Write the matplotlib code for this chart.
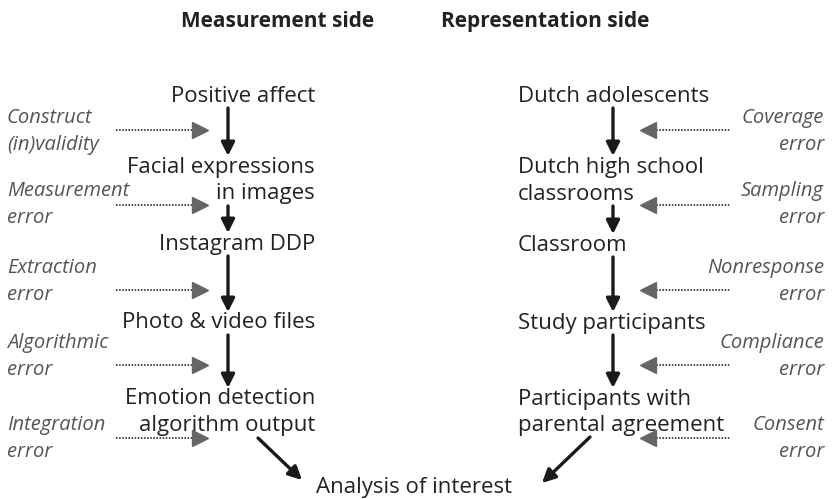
import matplotlib.pyplot as plt

# diagram content
headers = ["Measurement side", "Representation side"]
measure_nodes = ["Positive affect", "Facial expressions\nin images", "Instagram DDP",
                 "Photo & video files", "Emotion detection\nalgorithm output"]
represent_nodes = ["Dutch adolescents", "Dutch high school\nclassrooms", "Classroom",
                   "Study participants", "Participants with\nparental agreement"]
measure_errors = ["Construct\n(in)validity", "Measurement\nerror", "Extraction\nerror",
                  "Algorithmic\nerror", "Integration\nerror"]
represent_errors = ["Coverage\nerror", "Sampling\nerror", "Nonresponse\nerror",
                    "Compliance\nerror", "Consent\nerror"]
outcome = "Analysis of interest"

# layout (pixel coordinates, y downward)
node_y_left = [96, 167, 244, 323, 399]
node_y_right = [96, 167, 245, 323, 399]
err_y = [118, 191, 268, 343, 425]
err_arrow_y = [130, 205, 290, 365, 438]
line_gap = 27

FONT = "Open Sans"
fig = plt.figure(figsize=(8.32, 4.99), dpi=100)
ax = fig.add_axes([0, 0, 1, 1])
ax.set_xlim(0, 832)
ax.set_ylim(499, 0)
ax.axis("off")

ax.text(278, 21, headers[0], ha="center", va="center", fontsize=15,
        fontweight="bold", family=FONT, color="#222222")
ax.text(545, 21, headers[1], ha="center", va="center", fontsize=15,
        fontweight="bold", family=FONT, color="#222222")

ARROW = dict(arrowstyle="-|>,head_length=0.8,head_width=0.4",
             color="#1a1a1a", lw=2.4, shrinkA=0, shrinkB=0)


def put_lines(x, y, txt, ha, **kw):
    lines = txt.split("\n")
    for i, ln in enumerate(lines):
        ax.text(x, y + i * line_gap, ln, ha=ha, va="center", family=FONT, **kw)
    return y + (len(lines) - 1) * line_gap


def chain(nodes, ys, x_text, ha, x_arrow):
    bottoms = []
    for txt, y in zip(nodes, ys):
        bottoms.append(put_lines(x_text, y, txt, ha, fontsize=16, color="#222222"))
    for i in range(len(nodes) - 1):
        ax.annotate("", xy=(x_arrow, ys[i + 1] - 11), xytext=(x_arrow, bottoms[i] + 12),
                    arrowprops=ARROW)


chain(measure_nodes, node_y_left, 315, "right", 228)
chain(represent_nodes, node_y_right, 518, "left", 613)

# error sources
for txt, y, ya in zip(measure_errors, err_y, err_arrow_y):
    put_lines(7, y, txt, "left", fontsize=14.5, style="italic", color="#555555")
    ax.plot([116, 198], [ya, ya], ls=(0, (0.8, 0.8)), color="#444444", lw=1.4)
    ax.plot([200], [ya], marker=">", markersize=11, color="#666666")

for txt, y, ya in zip(represent_errors, err_y, err_arrow_y):
    put_lines(824, y, txt, "right", fontsize=14.5, style="italic", color="#555555")
    ax.plot([650, 730], [ya, ya], ls=(0, (0.8, 0.8)), color="#444444", lw=1.4)
    ax.plot([648], [ya], marker="<", markersize=11, color="#666666")

# final outcome
ax.text(414, 487, outcome, ha="center", va="center", fontsize=16, family=FONT, color="#222222")
ax.annotate("", xy=(302, 480), xytext=(258, 438), arrowprops=ARROW)
ax.annotate("", xy=(542, 483), xytext=(590, 437), arrowprops=ARROW)

fig.savefig("out.png", dpi=100)
